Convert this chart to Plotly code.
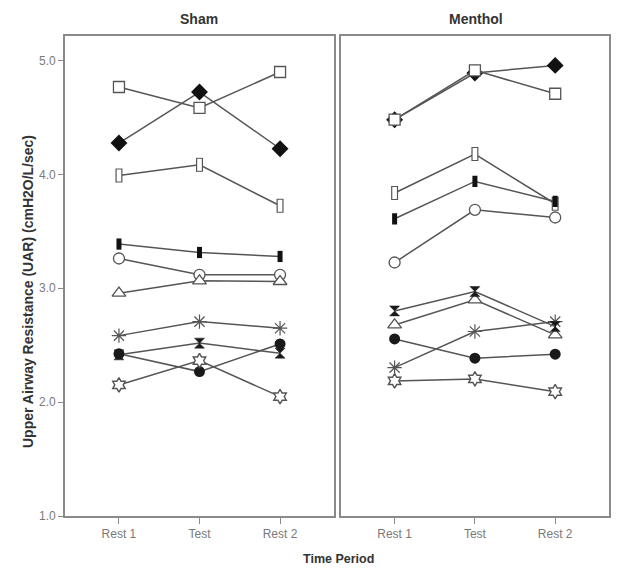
import plotly.graph_objects as go
from plotly.subplots import make_subplots

periods = ["Rest 1", "Test", "Rest 2"]
panels = ["Sham", "Menthol"]
y_ticks = [1.0, 2.0, 3.0, 4.0, 5.0]

# Sham values (Rest 1, Test, Rest 2)
sham_diamond = [4.275, 4.723, 4.225]
sham_open_square = [4.767, 4.583, 4.899]
sham_open_rect = [3.990, 4.084, 3.724]
sham_filled_rect = [3.388, 3.314, 3.279]
sham_open_circle = [3.261, 3.118, 3.118]
sham_open_triangle = [2.957, 3.065, 3.059]
sham_asterisk = [2.584, 2.707, 2.649]
sham_hourglass = [2.415, 2.518, 2.430]
sham_filled_circle = [2.424, 2.268, 2.511]
sham_sun = [2.151, 2.365, 2.048]

# Menthol values (Rest 1, Test, Rest 2)
menthol_diamond = [4.480, 4.890, 4.957]
menthol_open_square = [4.480, 4.913, 4.708]
menthol_open_rect = [3.836, 4.178, 3.742]
menthol_filled_rect = [3.610, 3.938, 3.762]
menthol_open_circle = [3.226, 3.689, 3.621]
menthol_open_triangle = [2.678, 2.898, 2.591]
menthol_asterisk = [2.303, 2.620, 2.707]
menthol_hourglass = [2.801, 2.971, 2.663]
menthol_filled_circle = [2.555, 2.386, 2.421]
menthol_sun = [2.186, 2.204, 2.092]

LINE = "#555555"
FRAME = "#8a8a8a"
TICKC = "#7a7a7a"
FONT = "Liberation Sans, Arial"

styles = {
    "diamond": dict(symbol="diamond", size=13, color="#111111", line=dict(color="#111111", width=0)),
    "open_square": dict(symbol="square", size=11, color="white", line=dict(color=LINE, width=1.3)),
    "filled_circle": dict(symbol="circle", size=11, color="#1a1a1a", line=dict(color="#1a1a1a", width=0)),
    "open_circle": dict(symbol="circle", size=11, color="white", line=dict(color=LINE, width=1.3)),
    "open_triangle": dict(symbol="triangle-up", size=12, color="white", line=dict(color=LINE, width=1.3)),
    "asterisk": dict(symbol="asterisk-open", size=12, color=LINE, line=dict(color=LINE, width=1.2)),
    "hourglass": dict(symbol="hourglass", size=10, color="#1a1a1a", line=dict(color="#1a1a1a", width=0.5)),
    "sun": dict(symbol="hexagram", size=11, color="white", line=dict(color=LINE, width=1.4)),
}

sham = [
    ("diamond", sham_diamond), ("open_square", sham_open_square),
    ("open_rect", sham_open_rect), ("filled_rect", sham_filled_rect),
    ("open_circle", sham_open_circle), ("open_triangle", sham_open_triangle),
    ("asterisk", sham_asterisk), ("hourglass", sham_hourglass),
    ("filled_circle", sham_filled_circle), ("sun", sham_sun),
]
menthol = [
    ("diamond", menthol_diamond), ("open_square", menthol_open_square),
    ("open_rect", menthol_open_rect), ("filled_rect", menthol_filled_rect),
    ("open_circle", menthol_open_circle), ("open_triangle", menthol_open_triangle),
    ("asterisk", menthol_asterisk), ("hourglass", menthol_hourglass),
    ("filled_circle", menthol_filled_circle), ("sun", menthol_sun),
]

fig = make_subplots(rows=1, cols=2, shared_yaxes=True, horizontal_spacing=0.0125)

for col, series in ((1, sham), (2, menthol)):
    for kind, vals in series:
        if kind == "open_rect":
            fig.add_trace(go.Scatter(x=periods, y=vals, mode="lines+markers",
                                     line=dict(color=LINE, width=1.5),
                                     marker=dict(symbol="line-ns", size=10, color=LINE,
                                                 line=dict(color=LINE, width=7)),
                                     showlegend=False, hoverinfo="skip"), row=1, col=col)
            fig.add_trace(go.Scatter(x=periods, y=vals, mode="markers",
                                     marker=dict(symbol="line-ns", size=8.6, color="white",
                                                 line=dict(color="white", width=4.6)),
                                     showlegend=False, hoverinfo="skip"), row=1, col=col)
        elif kind == "filled_rect":
            fig.add_trace(go.Scatter(x=periods, y=vals, mode="lines+markers",
                                     line=dict(color=LINE, width=1.5),
                                     marker=dict(symbol="line-ns", size=8, color="#111111",
                                                 line=dict(color="#111111", width=5)),
                                     showlegend=False, hoverinfo="skip"), row=1, col=col)
        else:
            fig.add_trace(go.Scatter(x=periods, y=vals, mode="lines+markers",
                                     line=dict(color=LINE, width=1.5),
                                     marker=styles[kind],
                                     showlegend=False, hoverinfo="skip"), row=1, col=col)

axis_common = dict(showline=True, mirror=True, linecolor=FRAME, linewidth=1.6,
                   showgrid=False, zeroline=False)

for c in (1, 2):
    fig.update_xaxes(type="category", categoryorder="array", categoryarray=periods,
                     range=[-0.67, 2.67], ticks="outside", ticklen=6, tickwidth=1.3,
                     tickcolor=FRAME, tickfont=dict(family=FONT, size=12, color=TICKC),
                     **axis_common, row=1, col=c)

fig.update_yaxes(range=[1.0, 5.215], tickvals=y_ticks, ticktext=["1.0", "2.0", "3.0", "4.0", "5.0"],
                 ticks="outside", ticklen=5, tickwidth=1.3, tickcolor=FRAME,
                 tickfont=dict(family=FONT, size=12, color=TICKC),
                 **axis_common, row=1, col=1)
fig.update_yaxes(range=[1.0, 5.215], showticklabels=False, ticks="", **axis_common, row=1, col=2)

fig.update_xaxes(domain=[0.0, 0.4945], row=1, col=1)
fig.update_xaxes(domain=[0.507, 1.0], row=1, col=2)

for name, xc in zip(panels, [199, 476]):
    fig.add_annotation(text="<b>%s</b>" % name, xref="paper", yref="paper",
                       x=(xc - 65) / 544, y=1.0, yshift=7, xanchor="center", yanchor="bottom",
                       showarrow=False,
                       font=dict(family=FONT, size=14, color="#333333"))

fig.add_annotation(text="<b>Time Period</b>", xref="paper", yref="paper",
                   x=(338 - 65) / 544, y=0, yshift=-34, xanchor="center", yanchor="top",
                   showarrow=False,
                   font=dict(family=FONT, size=12.5, color="#333333"))

fig.add_annotation(text="<b>Upper Airway Resistance (UAR) (cmH2O/L/sec)</b>",
                   xref="paper", yref="paper", x=0, xshift=-37, y=(516 - 292) / 480,
                   xanchor="center", yanchor="middle", textangle=-90, showarrow=False,
                   font=dict(family=FONT, size=14, color="#333333"))

# page body has an 8px default margin; size the figure so it fits the 633x570 window
fig.update_layout(width=625, height=562, plot_bgcolor="white", paper_bgcolor="white",
                  margin=dict(l=57, r=24, t=28, b=54), showlegend=False)

fig.write_html("out.html")
